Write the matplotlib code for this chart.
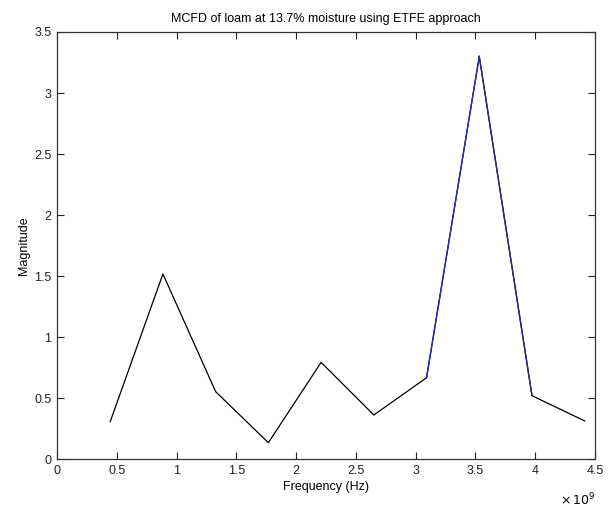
import matplotlib
matplotlib.use("Agg")
import matplotlib.pyplot as plt
from matplotlib.ticker import FuncFormatter, MultipleLocator

plt.rcParams['font.family'] = ['Liberation Sans', 'DejaVu Sans']

freq_hz = [0.445e9, 0.886e9, 1.327e9, 1.768e9, 2.209e9, 2.650e9, 3.091e9, 3.532e9, 3.973e9, 4.414e9]
magnitude = [0.308, 1.518, 0.554, 0.136, 0.794, 0.363, 0.668, 3.30, 0.521, 0.314]

title = "MCFD of loam at 13.7% moisture using ETFE approach"
xlabel = "Frequency (Hz)"
ylabel = "Magnitude"

fig = plt.figure(figsize=(6.08, 5.14), dpi=100)
ax = fig.add_axes([57/608, 1 - 459.3/514, (595-57)/608, (459.3-32)/514])

ax.plot(freq_hz, magnitude, color='black', lw=0.9)
ax.plot(freq_hz[6:8], magnitude[6:8], color='#2b2bb8', lw=1.0)
ax.plot(freq_hz[7:9], magnitude[7:9], color='#2a2a80', lw=1.0)

ax.set_xlim(0, 4.5e9)
ax.set_ylim(0, 3.5)
ax.xaxis.set_major_locator(MultipleLocator(0.5e9))
ax.yaxis.set_major_locator(MultipleLocator(0.5))
ax.xaxis.set_major_formatter(FuncFormatter(lambda v, p: f"{v/1e9:g}"))
ax.yaxis.set_major_formatter(FuncFormatter(lambda v, p: f"{v:g}"))

ax.tick_params(direction='in', length=5, width=0.8, top=True, right=True,
               labelsize=9, pad=4, colors='#222222')
for s in ax.spines.values():
    s.set_linewidth(0.9)
    s.set_color('#333333')

ax.set_title(title, fontsize=9, pad=7)
ax.set_xlabel(xlabel, fontsize=9, labelpad=3)
ax.set_ylabel(ylabel, fontsize=9, labelpad=3)
ax.text(1.0, -0.075, r"$\times\,10^{9}$", transform=ax.transAxes,
        ha='right', va='top', fontsize=9)

fig.savefig("out.png", dpi=100)
